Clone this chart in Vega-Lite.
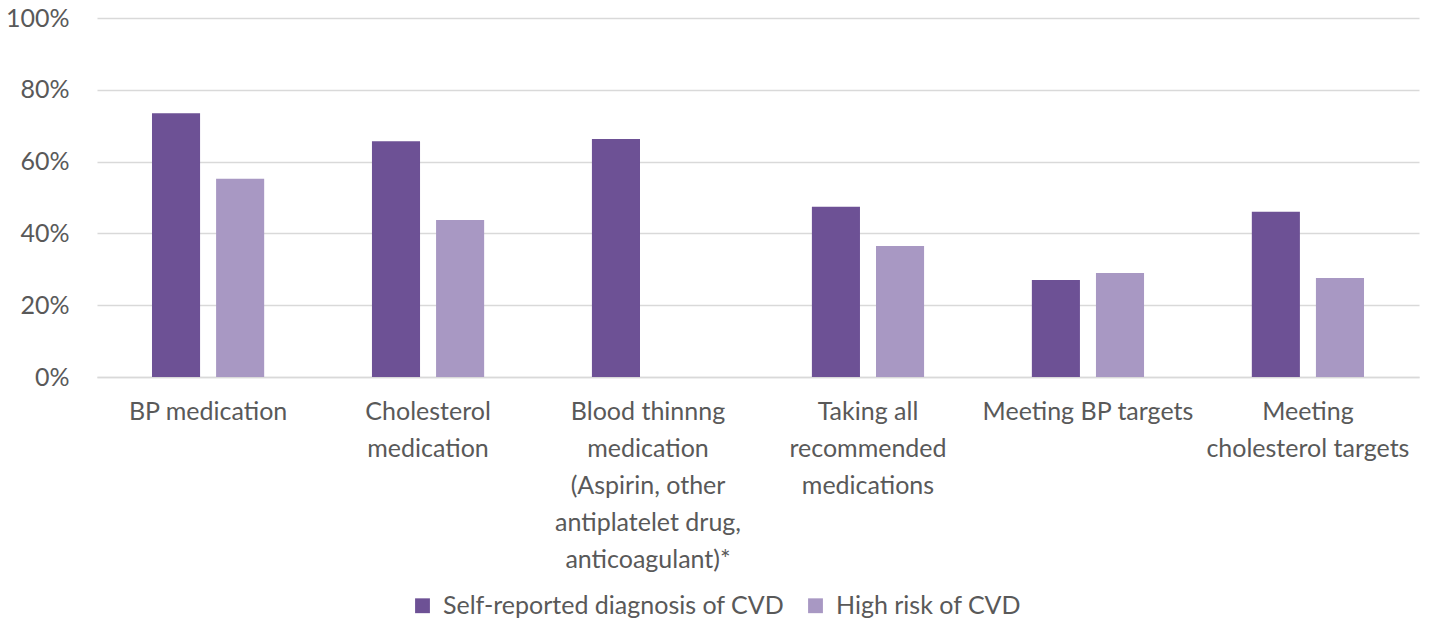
{
  "$schema": "https://vega.github.io/schema/vega-lite/v6.json",
  "width": 1322,
  "height": 359,
  "autosize": {"type": "none"},
  "padding": {"left": 97, "top": 18, "right": 18, "bottom": 246},
  "background": "white",
  "config": {
    "font": "Lato",
    "view": {"stroke": null},
    "axis": {"labelColor": "#595959", "labelFont": "Lato", "labelFontSize": 25, "titleColor": "#595959"},
    "legend": {"labelColor": "#595959", "labelFont": "Lato", "labelFontSize": 25, "labelLimit": 0}
  },
  "data": {
    "values": [
      {"measure": "BP medication", "group": "Self-reported diagnosis of CVD", "value": 0.735},
      {"measure": "BP medication", "group": "High risk of CVD", "value": 0.552},
      {"measure": "Cholesterol medication", "group": "Self-reported diagnosis of CVD", "value": 0.657},
      {"measure": "Cholesterol medication", "group": "High risk of CVD", "value": 0.437},
      {"measure": "Blood thinnng medication", "group": "Self-reported diagnosis of CVD", "value": 0.663},
      {"measure": "Taking all recommended medications", "group": "Self-reported diagnosis of CVD", "value": 0.474},
      {"measure": "Taking all recommended medications", "group": "High risk of CVD", "value": 0.365},
      {"measure": "Meeting BP targets", "group": "Self-reported diagnosis of CVD", "value": 0.27},
      {"measure": "Meeting BP targets", "group": "High risk of CVD", "value": 0.29},
      {"measure": "Meeting cholesterol targets", "group": "Self-reported diagnosis of CVD", "value": 0.46},
      {"measure": "Meeting cholesterol targets", "group": "High risk of CVD", "value": 0.276}
    ]
  },
  "mark": {"type": "bar"},
  "encoding": {
    "x": {
      "field": "measure",
      "type": "nominal",
      "sort": null,
      "scale": {
        "domain": ["BP medication", "Cholesterol medication", "Blood thinnng medication", "Taking all recommended medications", "Meeting BP targets", "Meeting cholesterol targets"],
        "paddingInner": 0.49,
        "paddingOuter": 0.25
      },
      "axis": {
        "title": null,
        "labelAngle": 0,
        "ticks": false,
        "domain": true,
        "domainColor": "#d9d9d9",
        "domainWidth": 1.5,
        "labelPadding": 22,
        "labelLineHeight": 37,
        "labelLimit": 0,
        "labelExpr": "datum.value == 'Cholesterol medication' ? ['Cholesterol', 'medication'] : datum.value == 'Blood thinnng medication' ? ['Blood thinnng', 'medication', '(Aspirin, other', 'antiplatelet drug,', 'anticoagulant)*'] : datum.value == 'Taking all recommended medications' ? ['Taking all', 'recommended', 'medications'] : datum.value == 'Meeting cholesterol targets' ? ['Meeting', 'cholesterol targets'] : datum.value"
      }
    },
    "xOffset": {
      "field": "group",
      "type": "nominal",
      "sort": ["Self-reported diagnosis of CVD", "High risk of CVD"],
      "scale": {"paddingInner": 0.25, "paddingOuter": 0}
    },
    "y": {
      "field": "value",
      "type": "quantitative",
      "scale": {"domain": [0, 1], "nice": false},
      "axis": {
        "title": null,
        "format": ".0%",
        "values": [0, 0.2, 0.4, 0.6, 0.8, 1],
        "ticks": false,
        "domain": false,
        "gridColor": "#d9d9d9",
        "gridWidth": 1.5,
        "labelPadding": 28
      }
    },
    "color": {
      "field": "group",
      "type": "nominal",
      "scale": {
        "domain": ["Self-reported diagnosis of CVD", "High risk of CVD"],
        "range": ["#6d5195", "#a898c3"]
      },
      "legend": {
        "title": null,
        "orient": "none",
        "direction": "horizontal",
        "legendX": 313,
        "legendY": 575,
        "symbolType": "square",
        "symbolSize": 220,
        "symbolStrokeWidth": 0,
        "columnPadding": 18,
        "labelOffset": 8
      }
    }
  }
}
